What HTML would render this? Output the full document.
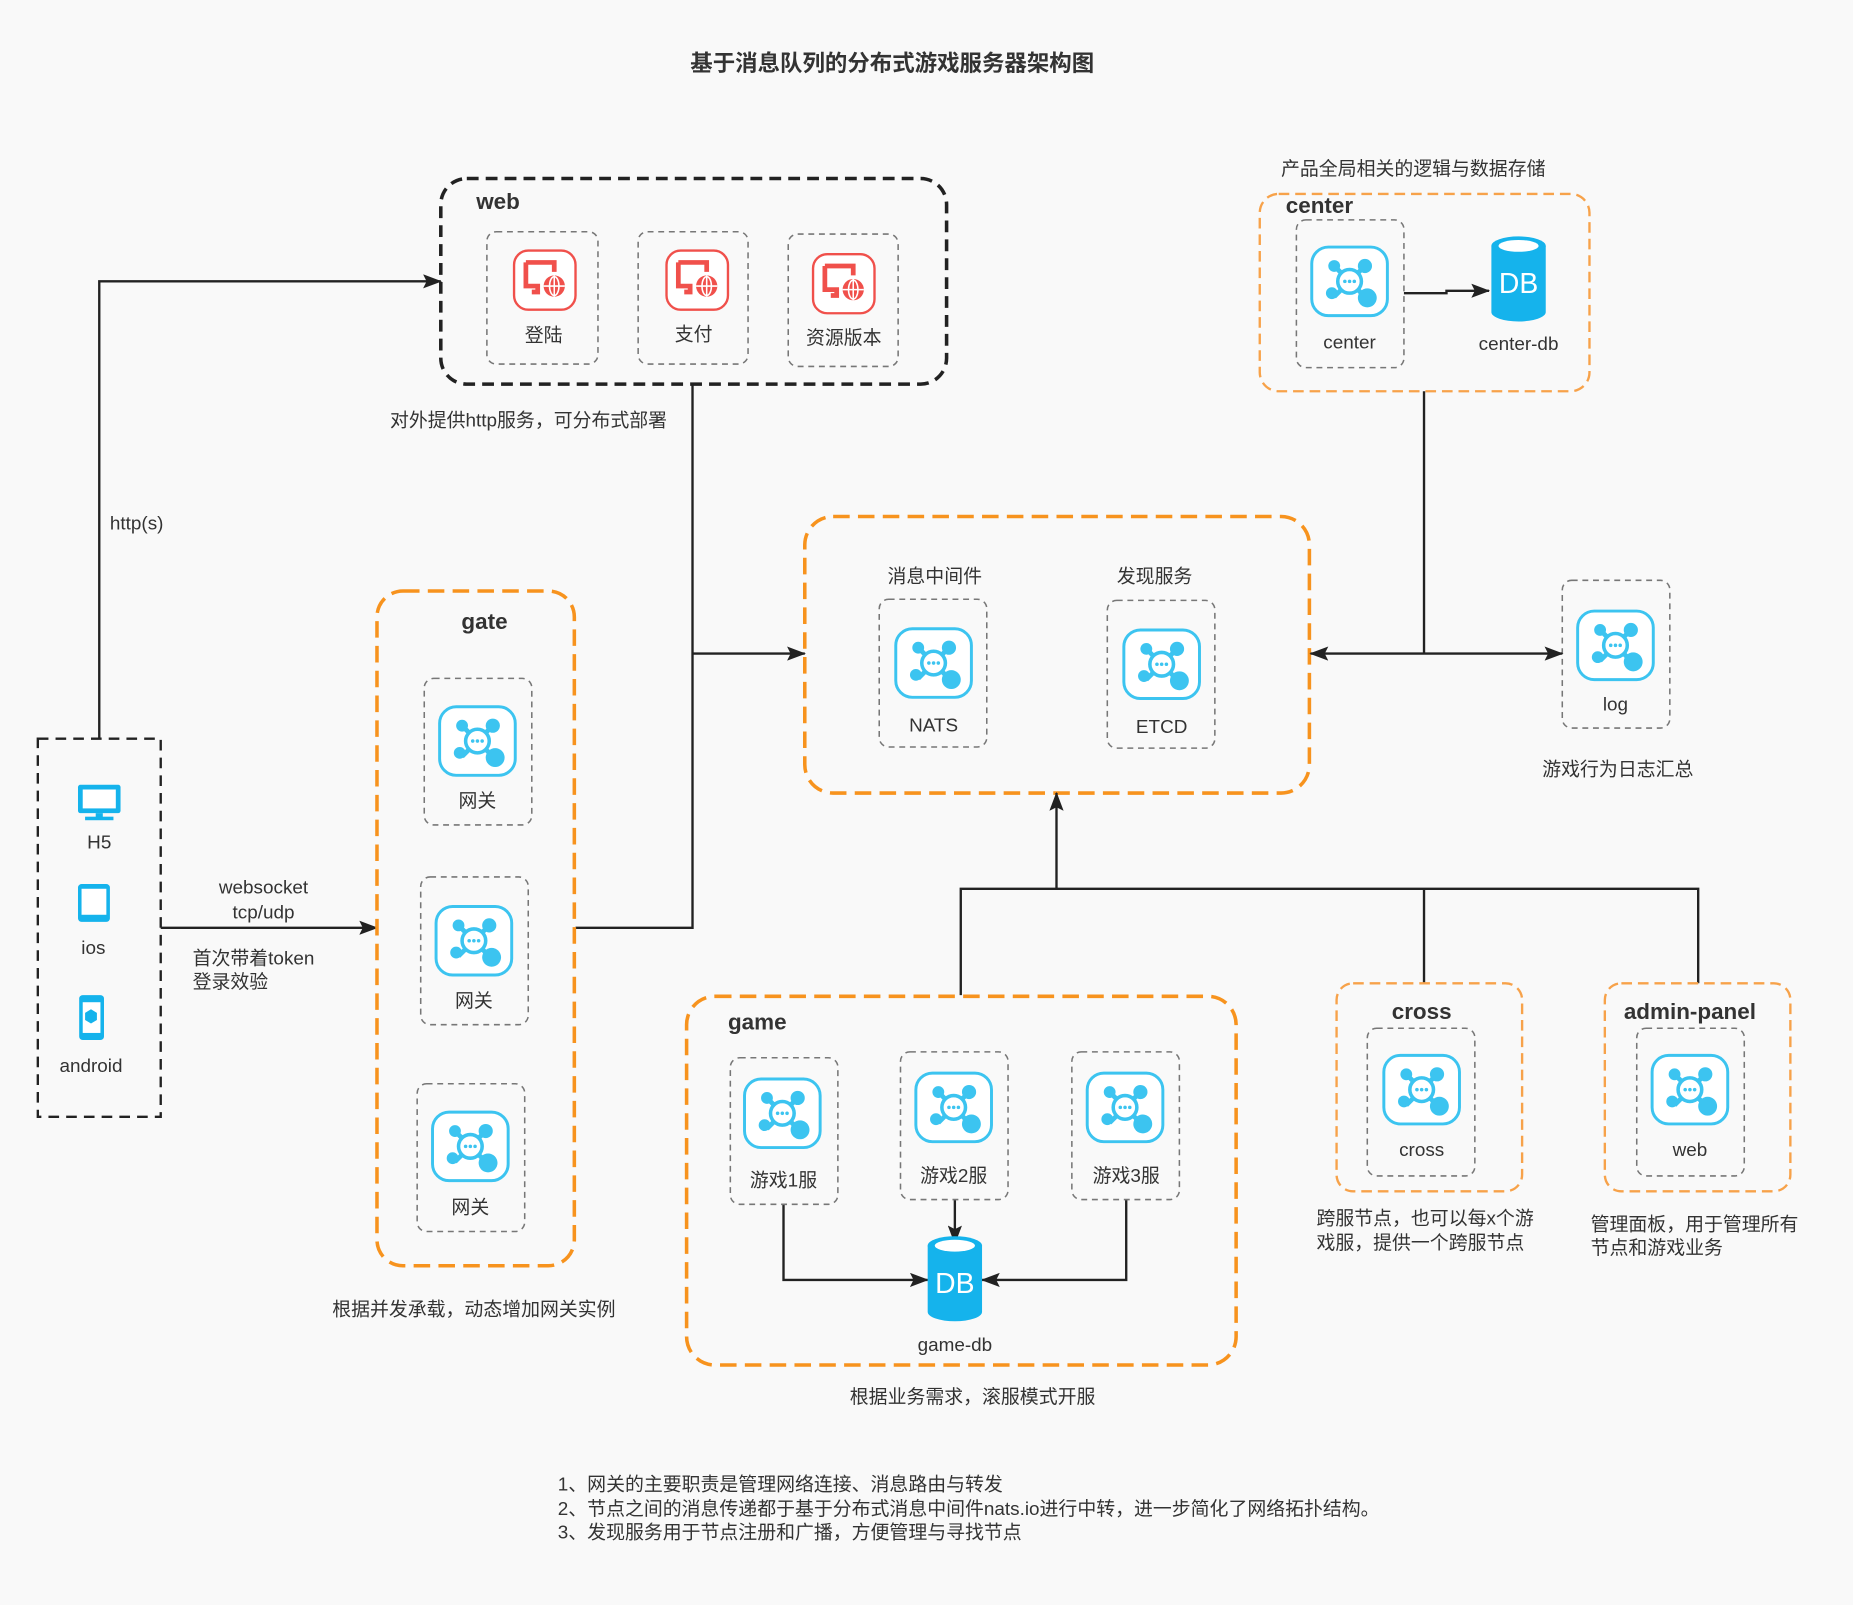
<!DOCTYPE html>
<html><head><meta charset="utf-8">
<style>
html,body{margin:0;padding:0;background:#f9f9f9;}
svg{display:block;}
text{font-family:"Liberation Sans","Noto Sans CJK SC",sans-serif;fill:#333;}
.b{font-weight:bold;}
</style></head>
<body>
<svg width="1853" height="1605" viewBox="0 0 1568 1358" xmlns="http://www.w3.org/2000/svg">
<defs>
  <marker id="ar" markerWidth="16" markerHeight="12" refX="15" refY="6" orient="auto" markerUnits="userSpaceOnUse" viewBox="0 0 16 12">
    <path d="M0,0 L16,6 L0,12 L3,6 Z" fill="#222"/>
  </marker>
  <g id="hub">
    <rect x="-32" y="-29" width="64" height="58" rx="14" fill="#fff" stroke="#3cc4f0" stroke-width="2.5"/>
    <g fill="#3cc4f0" stroke="#3cc4f0">
      <line x1="-13" y1="-13" x2="13" y2="13" stroke-width="4"/>
      <line x1="13" y1="-13" x2="-13" y2="13" stroke-width="4"/>
      <circle cx="-13" cy="-13" r="5" stroke="none"/>
      <circle cx="13" cy="-13" r="6" stroke="none"/>
      <circle cx="-15" cy="10" r="5" stroke="none"/>
      <circle cx="15" cy="14" r="8" stroke="none"/>
      <circle cx="0" cy="0" r="10" fill="#fff" stroke-width="3"/>
    </g>
    <g fill="#3cc4f0"><circle cx="-4" cy="0" r="1.5"/><circle cx="0" cy="0" r="1.5"/><circle cx="4" cy="0" r="1.5"/></g>
  </g>
  <g id="webi">
    <rect x="-26" y="-25" width="52" height="50" rx="12" fill="#fff" stroke="#f0504b" stroke-width="2"/>
    <path d="M-16,-15 h24 v8 M-16,-15 v20 h10 v5 h-5" fill="none" stroke="#f0504b" stroke-width="4"/>
    <circle cx="8" cy="5" r="9" fill="#f0504b"/>
    <g stroke="#fff" stroke-width="1.3" fill="none"><ellipse cx="8" cy="5" rx="4" ry="8"/><line x1="-1" y1="5" x2="17" y2="5"/><line x1="8" y1="-4" x2="8" y2="14"/></g>
  </g>
  <g id="db">
    <path d="M-23,-30 v56 a23,8 0 0 0 46,0 v-56 z" fill="#15b3ec"/>
    <ellipse cx="0" cy="-30" rx="23" ry="8" fill="#15b3ec"/>
    <ellipse cx="0" cy="-30" rx="17" ry="5" fill="#fff"/>
    <text x="0" y="10" text-anchor="middle" font-size="24" style="fill:#fff">DB</text>
  </g>
</defs>

<text x="755" y="60" text-anchor="middle" font-size="19" class="b">基于消息队列的分布式游戏服务器架构图</text>

<!-- web -->
<rect x="373" y="151" width="428" height="174" rx="22" fill="none" stroke="#222" stroke-width="3" stroke-dasharray="10,6"/>
<text x="403" y="177" font-size="19" class="b">web</text>
<g fill="#f9f9f9" stroke="#777" stroke-width="1.3" stroke-dasharray="5,4">
  <rect x="412" y="196" width="94" height="112" rx="8"/>
  <rect x="540" y="196" width="93" height="112" rx="8"/>
  <rect x="667" y="198" width="93" height="112" rx="8"/>
</g>
<use href="#webi" x="461" y="237"/><use href="#webi" x="590" y="237"/><use href="#webi" x="714" y="240"/>
<text x="460" y="289" text-anchor="middle" font-size="16">登陆</text>
<text x="587" y="288" text-anchor="middle" font-size="16">支付</text>
<text x="714" y="291" text-anchor="middle" font-size="16">资源版本</text>
<text x="330" y="361" font-size="16">对外提供http服务，可分布式部署</text>

<!-- center -->
<text x="1084" y="148" font-size="16">产品全局相关的逻辑与数据存储</text>
<rect x="1066" y="164" width="279" height="167" rx="16" fill="none" stroke="#f7a24a" stroke-width="2" stroke-dasharray="9,5"/>
<text x="1088" y="180" font-size="19" class="b">center</text>
<rect x="1097" y="186" width="91" height="125" rx="8" fill="#f9f9f9" stroke="#777" stroke-width="1.3" stroke-dasharray="5,4"/>
<use href="#hub" x="1142" y="238"/>
<text x="1142" y="295" text-anchor="middle" font-size="16">center</text>
<use href="#db" x="1285" y="238"/>
<text x="1285" y="296" text-anchor="middle" font-size="16">center-db</text>
<path d="M1188,248 H1224 V246 H1260" fill="none" stroke="#222" stroke-width="2" marker-end="url(#ar)"/>

<!-- middle -->
<rect x="681" y="437" width="427" height="234" rx="24" fill="none" stroke="#f7931e" stroke-width="3" stroke-dasharray="14,7"/>
<text x="791" y="493" text-anchor="middle" font-size="16">消息中间件</text>
<text x="977" y="493" text-anchor="middle" font-size="16">发现服务</text>
<rect x="744" y="507" width="91" height="125" rx="8" fill="#f9f9f9" stroke="#777" stroke-width="1.3" stroke-dasharray="5,4"/>
<rect x="937" y="508" width="91" height="125" rx="8" fill="#f9f9f9" stroke="#777" stroke-width="1.3" stroke-dasharray="5,4"/>
<use href="#hub" x="790" y="561"/><use href="#hub" x="983" y="562"/>
<text x="790" y="619" text-anchor="middle" font-size="16">NATS</text>
<text x="983" y="620" text-anchor="middle" font-size="16">ETCD</text>

<!-- log -->
<rect x="1322" y="491" width="91" height="125" rx="8" fill="#f9f9f9" stroke="#777" stroke-width="1.3" stroke-dasharray="5,4"/>
<use href="#hub" x="1367" y="546"/>
<text x="1367" y="601" text-anchor="middle" font-size="16">log</text>
<text x="1369" y="656" text-anchor="middle" font-size="16">游戏行为日志汇总</text>

<g fill="none" stroke="#222" stroke-width="2">
  <line x1="1205" y1="331" x2="1205" y2="553"/>
  <line x1="1205" y1="553" x2="1109" y2="553" marker-end="url(#ar)"/>
  <line x1="1205" y1="553" x2="1322" y2="553" marker-end="url(#ar)"/>
  <path d="M586,325 V785 H487"/>
  <line x1="586" y1="553" x2="681" y2="553" marker-end="url(#ar)"/>
  <path d="M84,625 V238 H373" marker-end="url(#ar)"/>
  <line x1="136" y1="785" x2="319" y2="785" marker-end="url(#ar)"/>
  <path d="M813,842 V752 H1437 V832"/>
  <line x1="1205" y1="752" x2="1205" y2="832"/>
  <line x1="894" y1="752" x2="894" y2="671" marker-end="url(#ar)"/>
  <path d="M663,1019 V1083 H785" marker-end="url(#ar)"/>
  <line x1="808" y1="1015" x2="808" y2="1052" marker-end="url(#ar)"/>
  <path d="M953,1015 V1083 H831" marker-end="url(#ar)"/>
</g>
<text x="93" y="448" font-size="16">http(s)</text>
<text x="223" y="756" text-anchor="middle" font-size="16">websocket</text>
<text x="223" y="777" text-anchor="middle" font-size="16">tcp/udp</text>
<text x="163" y="816" font-size="16">首次带着token</text>
<text x="163" y="836" font-size="16">登录效验</text>

<!-- clients -->
<rect x="32" y="625" width="104" height="320" fill="none" stroke="#222" stroke-width="2" stroke-dasharray="9,6"/>
<g fill="#15b3ec">
  <rect x="66" y="664" width="36" height="24" rx="2"/>
  <rect x="81" y="688" width="6" height="4"/><rect x="72" y="691" width="24" height="3"/>
  <rect x="66" y="748" width="27" height="32" rx="3"/>
  <rect x="67" y="842" width="21" height="38" rx="3"/>
</g>
<rect x="70" y="668" width="28" height="16" fill="#fff"/>
<rect x="69" y="752" width="21" height="22" fill="#fff"/>
<rect x="70" y="848" width="15" height="26" fill="#fff"/>
<path d="M77,854 l5,3 v6 l-5,3 l-5,-3 v-6z" fill="#15b3ec"/>
<text x="84" y="718" text-anchor="middle" font-size="16">H5</text>
<text x="79" y="807" text-anchor="middle" font-size="16">ios</text>
<text x="77" y="907" text-anchor="middle" font-size="16">android</text>

<!-- gate -->
<rect x="319" y="500" width="167" height="571" rx="22" fill="none" stroke="#f7931e" stroke-width="3" stroke-dasharray="14,7"/>
<text x="410" y="532" text-anchor="middle" font-size="19" class="b">gate</text>
<g fill="#f9f9f9" stroke="#777" stroke-width="1.3" stroke-dasharray="5,4">
  <rect x="359" y="574" width="91" height="124" rx="8"/>
  <rect x="356" y="742" width="91" height="125" rx="8"/>
  <rect x="353" y="917" width="91" height="125" rx="8"/>
</g>
<use href="#hub" x="404" y="627"/><use href="#hub" x="401" y="796"/><use href="#hub" x="398" y="970"/>
<text x="404" y="683" text-anchor="middle" font-size="16">网关</text>
<text x="401" y="852" text-anchor="middle" font-size="16">网关</text>
<text x="398" y="1027" text-anchor="middle" font-size="16">网关</text>
<text x="401" y="1113" text-anchor="middle" font-size="16">根据并发承载，动态增加网关实例</text>

<!-- game -->
<rect x="581" y="843" width="465" height="312" rx="24" fill="none" stroke="#f7931e" stroke-width="3" stroke-dasharray="14,7"/>
<text x="616" y="871" font-size="19" class="b">game</text>
<g fill="#f9f9f9" stroke="#777" stroke-width="1.3" stroke-dasharray="5,4">
  <rect x="618" y="895" width="91" height="124" rx="8"/>
  <rect x="762" y="890" width="91" height="125" rx="8"/>
  <rect x="907" y="890" width="91" height="125" rx="8"/>
</g>
<use href="#hub" x="662" y="942"/><use href="#hub" x="807" y="937"/><use href="#hub" x="952" y="937"/>
<text x="663" y="1004" text-anchor="middle" font-size="16">游戏1服</text>
<text x="807" y="1000" text-anchor="middle" font-size="16">游戏2服</text>
<text x="953" y="1000" text-anchor="middle" font-size="16">游戏3服</text>
<use href="#db" x="808" y="1084"/>
<text x="808" y="1143" text-anchor="middle" font-size="16">game-db</text>
<text x="823" y="1187" text-anchor="middle" font-size="16">根据业务需求，滚服模式开服</text>

<!-- cross -->
<rect x="1131" y="832" width="157" height="176" rx="14" fill="none" stroke="#f7a24a" stroke-width="2" stroke-dasharray="9,5"/>
<text x="1203" y="862" text-anchor="middle" font-size="19" class="b">cross</text>
<rect x="1157" y="870" width="91" height="125" rx="8" fill="#f9f9f9" stroke="#777" stroke-width="1.3" stroke-dasharray="5,4"/>
<use href="#hub" x="1203" y="922"/>
<text x="1203" y="978" text-anchor="middle" font-size="16">cross</text>
<text x="1114" y="1036" font-size="16">跨服节点，也可以每x个游</text>
<text x="1114" y="1057" font-size="16">戏服，提供一个跨服节点</text>

<!-- admin -->
<rect x="1358" y="832" width="157" height="176" rx="14" fill="none" stroke="#f7a24a" stroke-width="2" stroke-dasharray="9,5"/>
<text x="1430" y="862" text-anchor="middle" font-size="19" class="b">admin-panel</text>
<rect x="1385" y="870" width="91" height="125" rx="8" fill="#f9f9f9" stroke="#777" stroke-width="1.3" stroke-dasharray="5,4"/>
<use href="#hub" x="1430" y="922"/>
<text x="1430" y="978" text-anchor="middle" font-size="16">web</text>
<text x="1346" y="1041" font-size="16">管理面板，用于管理所有</text>
<text x="1346" y="1061" font-size="16">节点和游戏业务</text>

<!-- notes -->
<text x="472" y="1261" font-size="16">1、网关的主要职责是管理网络连接、消息路由与转发</text>
<text x="472" y="1282" font-size="16">2、节点之间的消息传递都于基于分布式消息中间件nats.io进行中转，进一步简化了网络拓扑结构。</text>
<text x="472" y="1302" font-size="16">3、发现服务用于节点注册和广播，方便管理与寻找节点</text>
</svg>
</body></html>
